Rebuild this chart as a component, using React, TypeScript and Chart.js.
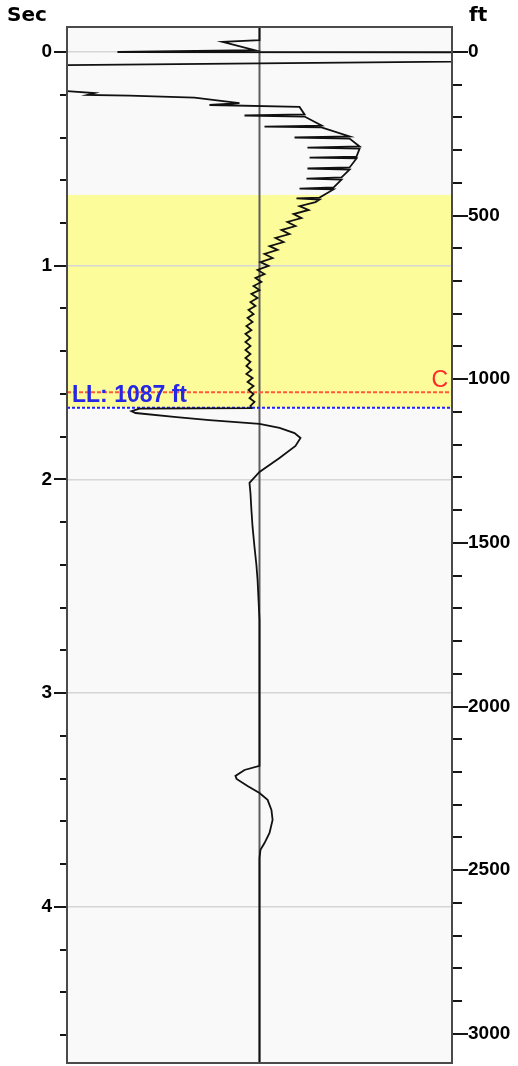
import React, { useEffect, useRef } from 'react';
import { Chart, registerables } from 'chart.js';

Chart.register(...registerables);

// Axis ranges
const secMin = -0.117;
const secMax = 4.73;
const ftMin = -76;
const ftMax = 3089;
const ampMin = -1;
const ampMax = 1;
const secStep = 0.2;
const ftStep = 100;
const ftLabelEvery = 500;

// Zone and markers (ft)
const zoneTopFt = 437;
const zoneBottomFt = 1087;
const cFt = 1040;
const llFt = 1087;
const cLabel = 'C';

// Trace: time (sec) and normalized amplitude
const traceSec = [
  -0.117, -0.056, -0.047, -0.009, 0, 0.007, 0.023, 0.084, 0.168,
  0.183, 0.192, 0.201, 0.204, 0.213, 0.239, 0.248, 0.257,
  0.292, 0.297, 0.302,
  0.344, 0.349, 0.353,
  0.395, 0.400, 0.405,
  0.442, 0.447, 0.452,
  0.489, 0.494, 0.498,
  0.540, 0.545, 0.550,
  0.587, 0.592, 0.597,
  0.634, 0.639, 0.643,
  0.681, 0.685, 0.690,
  0.702, 0.721, 0.739, 0.758, 0.777, 0.795, 0.814, 0.833, 0.852, 0.870,
  0.889, 0.908, 0.926, 0.945, 0.964, 0.983, 1.001, 1.020, 1.039, 1.057,
  1.076, 1.095, 1.114, 1.132, 1.151,
  1.170, 1.188, 1.207, 1.226, 1.244, 1.263, 1.282, 1.301, 1.319, 1.338,
  1.357, 1.375, 1.394, 1.413, 1.432, 1.450, 1.469, 1.488, 1.506, 1.525,
  1.544, 1.563, 1.581, 1.600, 1.619, 1.637, 1.656, 1.666,
  1.668, 1.680, 1.689, 1.708, 1.722, 1.740, 1.759, 1.783, 1.806, 1.843,
  1.899, 1.965, 2.016, 2.063, 2.143, 2.222, 2.316, 2.400, 2.470, 2.564, 2.657,
  3.340, 3.359, 3.387, 3.401, 3.434, 3.467, 3.499, 3.546, 3.593, 3.654,
  3.701, 3.733, 3.771, 4.730,
];

const traceAmp = [
  0, 0, -0.192, -0.026, -0.738, 9.04, 3.844, -3.948, -2.909,
  -1.003, -0.857, -0.894, -0.675, -0.338, -0.104, -0.260, 0.208,
  0.234, -0.078, 0.234,
  0.322, 0.026, 0.322,
  0.468, 0.182, 0.468,
  0.520, 0.249, 0.520,
  0.504, 0.260, 0.504,
  0.468, 0.249, 0.468,
  0.426, 0.244, 0.426,
  0.384, 0.208, 0.384,
  0.312, 0.192, 0.312,
  0.291, 0.208, 0.255, 0.177, 0.218, 0.145, 0.187, 0.114, 0.156, 0.083,
  0.125, 0.052, 0.094, 0.026, 0.068, 0.005, 0.047, -0.010, 0.026, -0.021,
  0.010, -0.031, 0, -0.042, -0.010,
  -0.047, -0.021, -0.057, -0.031, -0.062, -0.036, -0.068, -0.042, -0.073, -0.047,
  -0.073, -0.047, -0.073, -0.047, -0.073, -0.047, -0.068, -0.042, -0.068, -0.036,
  -0.062, -0.031, -0.057, -0.031, -0.052, -0.026, -0.047, -0.042,
  -0.623, -0.665, -0.644, -0.431, -0.260, 0, 0.104, 0.182, 0.213, 0.187,
  0.104, 0, -0.052, -0.047, -0.042, -0.036, -0.026, -0.016, -0.010, -0.005, 0,
  0, -0.078, -0.125, -0.119, -0.062, 0, 0.042, 0.062, 0.068, 0.052,
  0.026, 0.005, 0, 0,
];

const tickFont = { family: '"Liberation Sans", Arial, sans-serif', size: 19, weight: 'bold' as const };

export default function App() {
  const ref = useRef<HTMLCanvasElement>(null);

  useEffect(() => {
    const canvas = ref.current;
    if (!canvas) return;
    const isWhole = (v: number) => Math.abs(v - Math.round(v)) < 1e-6;

    const decor = {
      id: 'decor',
      beforeDraw(chart: any) {
        const { ctx, chartArea } = chart;
        const { left, right, top, bottom } = chartArea;
        const y2 = chart.scales.y2;
        ctx.save();
        ctx.fillStyle = '#f9f9f9';
        ctx.fillRect(left, top, right - left, bottom - top);
        const zt = y2.getPixelForValue(zoneTopFt);
        const zb = y2.getPixelForValue(zoneBottomFt);
        ctx.fillStyle = '#fcfc9b';
        ctx.fillRect(left, zt, right - left, zb - zt);
        ctx.restore();
      },
      afterDatasetsDraw(chart: any) {
        const { ctx, chartArea } = chart;
        const { left, right } = chartArea;
        const y2 = chart.scales.y2;
        ctx.save();
        ctx.textBaseline = 'alphabetic';
        ctx.fillStyle = '#ff2a2a';
        ctx.font = '23px "Liberation Sans", Arial, sans-serif';
        ctx.textAlign = 'right';
        ctx.fillText(cLabel, right - 4, y2.getPixelForValue(cFt) - 5);
        ctx.fillStyle = '#2626e6';
        ctx.font = 'bold 23px "Liberation Sans", Arial, sans-serif';
        ctx.textAlign = 'left';
        ctx.fillText(`LL: ${llFt} ft`, left + 5, y2.getPixelForValue(llFt) - 6);
        ctx.restore();
      },
      afterDraw(chart: any) {
        const { ctx, chartArea } = chart;
        const { left, right, top, bottom } = chartArea;
        const ys = chart.scales.y;
        const y2 = chart.scales.y2;
        ctx.save();
        ctx.strokeStyle = '#151515';
        ctx.lineWidth = 2;
        ctx.beginPath();
        ys.ticks.forEach((t: any) => {
          const py = Math.round(ys.getPixelForValue(t.value));
          const len = isWhole(t.value) ? 13 : 7;
          ctx.moveTo(left - len, py);
          ctx.lineTo(left, py);
        });
        y2.ticks.forEach((t: any) => {
          const py = Math.round(y2.getPixelForValue(t.value));
          const len = Math.round(t.value) % ftLabelEvery === 0 ? 16 : 10;
          ctx.moveTo(right, py);
          ctx.lineTo(right + len, py);
        });
        ctx.stroke();
        ctx.strokeStyle = '#4a4a4a';
        ctx.lineWidth = 2;
        ctx.strokeRect(left, top, right - left, bottom - top);
        ctx.restore();
      },
    };

    const traceData = traceSec.map((s, i) => ({ x: traceAmp[i], y: s }));

    const chart = new Chart(canvas, {
      type: 'scatter',
      data: {
        datasets: [
          {
            data: traceData,
            showLine: true,
            borderColor: '#111111',
            borderWidth: 1.8,
            pointRadius: 0,
            tension: 0,
            yAxisID: 'y',
          },
          {
            data: [
              { x: ampMin, y: llFt },
              { x: ampMax, y: llFt },
            ],
            showLine: true,
            borderColor: '#1f1fff',
            borderWidth: 2,
            borderDash: [3, 2],
            pointRadius: 0,
            yAxisID: 'y2',
          },
          {
            data: [
              { x: ampMin, y: cFt },
              { x: ampMax, y: cFt },
            ],
            showLine: true,
            borderColor: '#ff5a3c',
            borderWidth: 2,
            borderDash: [4, 2],
            pointRadius: 0,
            yAxisID: 'y2',
          },
          {
            data: [
              { x: 0, y: secMin },
              { x: 0, y: secMax },
            ],
            showLine: true,
            borderColor: '#5e5e5e',
            borderWidth: 2,
            pointRadius: 0,
            yAxisID: 'y',
          },
        ],
      },
      options: {
        responsive: false,
        animation: false,
        events: [],
        layout: { padding: { top: 27, bottom: 3, left: 0, right: 0 } },
        plugins: {
          legend: { display: false },
          tooltip: { enabled: false },
          title: { display: false },
        },
        scales: {
          x: { type: 'linear', min: ampMin, max: ampMax, display: false },
          y: {
            type: 'linear',
            position: 'left',
            reverse: true,
            min: secMin,
            max: secMax,
            border: { display: false },
            grid: {
              drawTicks: false,
              lineWidth: 1.5,
              color: (c: any) => (c.tick && isWhole(c.tick.value) ? '#d6d6d6' : 'rgba(0,0,0,0)'),
            },
            ticks: {
              stepSize: secStep,
              includeBounds: false,
              autoSkip: false,
              padding: 15,
              color: '#000',
              font: tickFont,
              callback: (v: any) => (isWhole(Number(v)) ? String(Math.round(Number(v))) : ''),
            },
            afterFit: (s: any) => {
              s.width = 67;
              s.paddingTop = 0;
              s.paddingBottom = 0;
            },
          },
          y2: {
            type: 'linear',
            position: 'right',
            reverse: true,
            min: ftMin,
            max: ftMax,
            border: { display: false },
            grid: { display: false, drawTicks: false, drawOnChartArea: false },
            ticks: {
              stepSize: ftStep,
              includeBounds: false,
              autoSkip: false,
              padding: 16,
              color: '#000',
              font: tickFont,
              callback: (v: any) => (Math.round(Number(v)) % ftLabelEvery === 0 ? String(Math.round(Number(v))) : ''),
            },
            afterFit: (s: any) => {
              s.width = 66;
              s.paddingTop = 0;
              s.paddingBottom = 0;
            },
          },
        },
      },
      plugins: [decor],
    } as any);

    return () => chart.destroy();
  }, []);

  const titleStyle: React.CSSProperties = {
    position: 'absolute',
    top: 4,
    font: 'bold 20px "DejaVu Sans", sans-serif',
    lineHeight: '20px',
    color: '#000',
    margin: 0,
  };

  return (
    <div style={{ position: 'absolute', left: 0, top: 0, width: 518, height: 1066, background: '#fff', overflow: 'hidden' }}>
      <canvas ref={ref} width={518} height={1066} style={{ display: 'block', width: 518, height: 1066 }} />
      <div style={{ ...titleStyle, left: 7 }}>Sec</div>
      <div style={{ ...titleStyle, left: 469 }}>ft</div>
    </div>
  );
}
